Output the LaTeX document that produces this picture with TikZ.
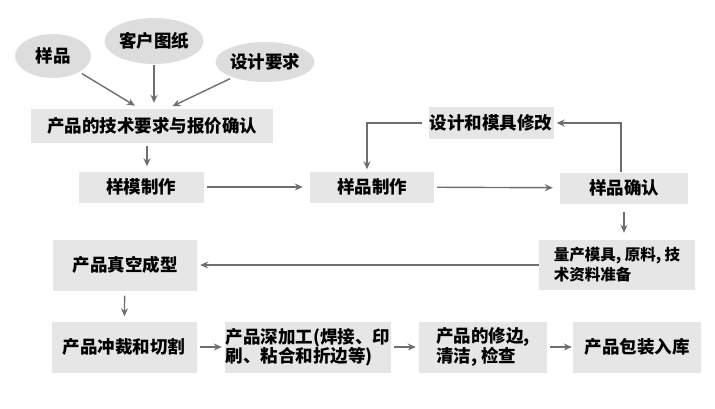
\documentclass[tikz,border=0pt]{standalone}
\usepackage{fontspec}
\setmainfont{Noto Sans CJK SC}
\usetikzlibrary{shapes.geometric, arrows.meta}
\definecolor{boxgray}{HTML}{E6E6E6}
\definecolor{ovalgray}{HTML}{DDDDDD}
\definecolor{arrowgray}{HTML}{6E6E6E}

\begin{document}
\begin{tikzpicture}[x=1pt, y=-1pt, >={Stealth[length=8pt, width=7pt]},
  stage/.style={fill=boxgray, inner sep=0pt, align=left, font=\fontsize{17.5}{19}\selectfont\bfseries},
  source/.style={ellipse, fill=ovalgray, inner sep=0pt, font=\fontsize{17.5}{19}\selectfont\bfseries},
  flow/.style={->, draw=arrowgray, line width=1.4pt, shorten <=3pt, shorten >=3pt}]
\useasboundingbox (0,0) rectangle (715,408);

% inputs
\node[source, minimum width=76pt, minimum height=44pt] (sample) at (53,56) {样品};
\node[source, minimum width=92pt, minimum height=46pt] (drawing) at (154,41) {客户图纸};
\node[source, minimum width=86pt, minimum height=40pt] (design) at (265,62) {设计要求};

% sample stage
\node[stage, minimum width=242pt, minimum height=34pt] (quote) at (152,126) {产品的技术要求与报价确认};
\node[stage, minimum width=125pt, minimum height=31pt] (mould) at (141,187) {样模制作};
\node[stage, minimum width=124pt, minimum height=31pt] (make) at (372,187) {样品制作};
\node[stage, minimum width=128pt, minimum height=31pt] (check) at (624,188) {样品确认};
\node[stage, minimum width=125pt, minimum height=32pt] (modify) at (491,123) {设计和模具修改};

% production stage
\node[stage, minimum width=156pt, minimum height=50pt, font=\fontsize{15.5}{20}\selectfont\bfseries] (prep) at (617,265) {量产模具, 原料, 技\\术资料准备};
\node[stage, minimum width=144pt, minimum height=51pt] (vacuum) at (125,265) {产品真空成型};
\node[stage, minimum width=145pt, minimum height=51pt] (cut) at (124,347) {产品冲裁和切割};
\node[stage, minimum width=166pt, minimum height=51pt] (deep) at (308,347) {产品深加工(焊接、印\\刷、粘合和折边等)};
\node[stage, minimum width=128pt, minimum height=51pt] (trim) at (483,347) {产品的修边,\\清洁, 检查};
\node[stage, minimum width=128pt, minimum height=51pt] (pack) at (637,347) {产品包装入库};

\draw[flow, shorten >=6pt] (sample) -- ([xshift=-12pt]quote.north);
\draw[flow, shorten <=1pt, shorten >=6pt] (drawing) -- (drawing |- quote.north);
\draw[flow, shorten >=6pt] (design) -- ([xshift=15pt]quote.north);
\draw[flow, shorten >=5pt] ([xshift=-5pt]quote.south) -- ([xshift=-5pt]quote.south |- mould.north);
\draw[flow, shorten >=7pt] (mould) -- (make);
\draw[flow, shorten >=7pt] (make) -- (check);
\draw[flow, shorten <=0pt] ([xshift=-3pt]check.north) |- (modify.east);
\draw[flow, shorten <=6pt, shorten >=2pt] (modify.west) -| ([xshift=-5pt]make.north);
\draw[flow, shorten <=8pt, shorten >=7pt] (check) -- (check |- prep.north);
\draw[flow, shorten <=0pt] (prep) -- (prep.west -| vacuum.east);
\draw[flow, shorten <=5pt, shorten >=5pt] (vacuum) -- (cut);
\draw[flow] (cut) -- (deep);
\draw[flow] (deep) -- (trim);
\draw[flow, shorten >=1pt] (trim) -- (pack);
\end{tikzpicture}
\end{document}
